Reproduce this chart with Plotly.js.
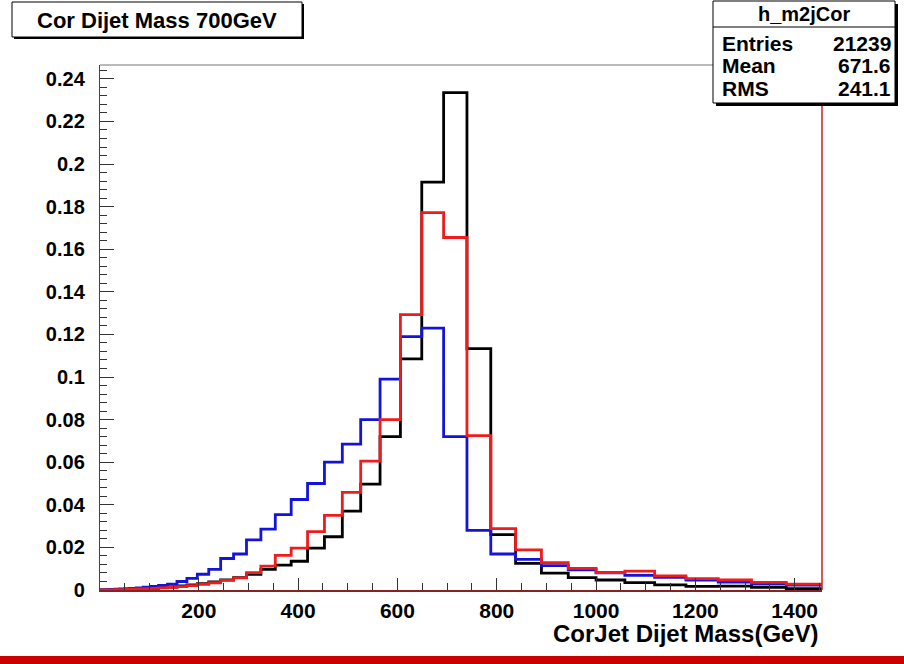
<!DOCTYPE html>
<html>
<head>
<meta charset="utf-8">
<script src="https://cdn.plot.ly/plotly-3.0.1.min.js"></script>
<style>
html,body{margin:0;padding:0;background:#fff;}
#chart{width:904px;height:664px;}
</style>
</head>
<body>
<div id="chart"></div>
<script>
// Bin edges (GeV)
const binEdges = [1,3,6,10,16,23,31,40,50,61,74,88,103,119,137,156,176,197,220,244,270,296,325,354,386,419,453,489,526,565,606,649,693,740,788,838,890,944,1000,1058,1118,1181,1246,1313,1383,1455];

// Bin contents (normalized) for each histogram
const blackValues = [0,0,0,0.0001,0.0001,0.0002,0.0002,0.0003,0.0003,0.0004,0.0005,
  0.0006,0.0008,0.0011,0.0014,0.0019,0.0024,0.0030,0.0038,0.0048,0.0058,0.0074,0.0097,0.0117,0.0135,
  0.0197,0.0250,0.0370,0.0497,0.0720,0.1085,0.1915,0.2335,0.1133,0.0260,0.0125,0.0079,0.0058,0.0047,
  0.0035,0.0024,0.0017,0.0018,0.0013,0.0006];
const redValues = [0,0,0,0.0001,0.0001,0.0001,0.0002,0.0002,0.0003,0.0004,0.0005,
  0.0006,0.0008,0.0010,0.0012,0.0016,0.0021,0.0027,0.0034,0.0045,0.0057,0.0082,0.0112,0.0163,0.0197,
  0.0274,0.0350,0.0458,0.0605,0.0800,0.1293,0.1772,0.1655,0.0725,0.0288,0.0188,0.0128,0.0102,0.0082,
  0.0089,0.0066,0.0053,0.0047,0.0036,0.0028];
const blueValues = [0,0,0.0001,0.0001,0.0002,0.0003,0.0004,0.0005,0.0006,0.0008,0.0010,
  0.0013,0.0017,0.0022,0.0028,0.0040,0.0055,0.0074,0.0097,0.0148,0.0169,0.0235,0.0286,0.0354,0.0425,
  0.0500,0.0600,0.0685,0.0800,0.0990,0.1190,0.1230,0.0720,0.0280,0.0169,0.0144,0.0114,0.0095,0.0081,
  0.0069,0.0059,0.0047,0.0037,0.0029,0.0023];

const titleText = "Cor Dijet Mass 700GeV";
const xAxisTitle = "CorJet Dijet Mass(GeV)";
const statsName = "h_m2jCor";
const statsLabels = ["Entries","Mean","RMS"];
const statsValues = ["21239","671.6","241.1"];

const xTickVals = [200,400,600,800,1000,1200,1400];
const yTickVals = [0,0.02,0.04,0.06,0.08,0.1,0.12,0.14,0.16,0.18,0.2,0.22,0.24];
const yTickText = ["0","0.02","0.04","0.06","0.08","0.1","0.12","0.14","0.16","0.18","0.2","0.22","0.24"];

function stepTrace(vals, color){
  return {
    type:'scatter', mode:'lines',
    x: binEdges,
    y: vals.concat([vals[vals.length-1]]),
    line:{shape:'hv', color:color, width:2.8},
    hoverinfo:'skip', showlegend:false, cliponaxis:false
  };
}

// pixel helpers (plot area: x 100..822, y 65..590)
const L=100, R=822, T=65, B=590;
const px = v => (v - L)/(R - L);
const py = v => (B - v)/(B - T);

const FONT = '"Liberation Sans", Arial, sans-serif';

const traces = [
  stepTrace(blackValues,'#000000'),
  stepTrace(blueValues,'#1414d8'),
  stepTrace(redValues,'#ee1c1c')
];

const shapes = [
  {type:'line', xref:'paper', yref:'paper', x0:0, x1:px(713), y0:1, y1:1, line:{color:'#777', width:1.2}},
  {type:'line', xref:'paper', yref:'paper', x0:1, x1:1, y0:0, y1:py(104), line:{color:'#cc2020', width:1.5}},
  {type:'rect', xref:'paper', yref:'paper', x0:px(14), x1:px(304), y0:py(39), y1:py(4), fillcolor:'#000', line:{width:0}},
  {type:'rect', xref:'paper', yref:'paper', x0:px(12), x1:px(302), y0:py(37), y1:py(2), fillcolor:'#fff', line:{color:'#000', width:1}},
  {type:'rect', xref:'paper', yref:'paper', x0:px(716), x1:px(898), y0:py(106), y1:py(4), fillcolor:'#000', line:{width:0}},
  {type:'rect', xref:'paper', yref:'paper', x0:px(713), x1:px(895), y0:py(103), y1:py(1), fillcolor:'#fff', line:{color:'#000', width:1}},
  {type:'line', xref:'paper', yref:'paper', x0:px(713), x1:px(895), y0:py(27), y1:py(27), line:{color:'#000', width:1}},
  {type:'rect', xref:'paper', yref:'paper', x0:px(0), x1:px(904), y0:py(664), y1:py(656), fillcolor:'#cc0000', line:{width:0}}
];

const annotations = [
  {xref:'paper', yref:'paper', x:px(157), y:py(20), text:'<b>'+titleText+'</b>', showarrow:false,
   xanchor:'center', yanchor:'middle', font:{family:FONT, size:22, color:'#000'}},
  {xref:'paper', yref:'paper', x:px(804), y:py(14), text:'<b>'+statsName+'</b>', showarrow:false,
   xanchor:'center', yanchor:'middle', font:{family:FONT, size:20, color:'#000'}},
  {xref:'paper', yref:'paper', x:px(820), y:py(633), text:'<b>'+xAxisTitle+'</b>', showarrow:false,
   xanchor:'right', yanchor:'middle', font:{family:FONT, size:24, color:'#000'}}
];
const rowY = [44,66,88];
statsLabels.forEach((lab,i)=>{
  annotations.push({xref:'paper', yref:'paper', x:px(720), y:py(rowY[i]), text:'<b>'+lab+'</b>', showarrow:false,
    xanchor:'left', yanchor:'middle', font:{family:FONT, size:21, color:'#000'}});
  annotations.push({xref:'paper', yref:'paper', x:px(893), y:py(rowY[i]), text:'<b>'+statsValues[i]+'</b>', showarrow:false,
    xanchor:'right', yanchor:'middle', font:{family:FONT, size:21, color:'#000'}});
});

const layout = {
  width:904, height:664,
  margin:{l:L, r:904-R, t:T, b:664-B, pad:0},
  paper_bgcolor:'#fff', plot_bgcolor:'#fff',
  showlegend:false,
  xaxis:{
    range:[1,1455], showgrid:false, zeroline:false,
    showline:true, linecolor:'#8a2020', linewidth:1.5, mirror:false,
    ticks:'inside', ticklen:12, tickwidth:1, tickcolor:'#333',
    tickvals:xTickVals, ticktext:xTickVals.map(String),
    tickfont:{family:FONT, size:21, color:'#000', weight:'bold'},
    ticklabelstandoff:1,
    minor:{ticks:'inside', ticklen:7, dtick:50, tick0:0, tickcolor:'#333', tickwidth:1, showgrid:false},
    fixedrange:true
  },
  yaxis:{
    range:[0,0.2465], showgrid:false, zeroline:false,
    showline:true, linecolor:'#444', linewidth:1.2,
    ticks:'inside', ticklen:14, tickwidth:1, tickcolor:'#333',
    tickvals:yTickVals, ticktext:yTickText,
    tickfont:{family:FONT, size:20, color:'#000', weight:'bold'},
    ticklabelstandoff:10,
    minor:{ticks:'inside', ticklen:7, dtick:0.004, tick0:0, tickcolor:'#333', tickwidth:1, showgrid:false},
    fixedrange:true
  },
  shapes:shapes,
  annotations:annotations
};

Plotly.newPlot('chart', traces, layout, {displayModeBar:false, staticPlot:true});
</script>
</body>
</html>
